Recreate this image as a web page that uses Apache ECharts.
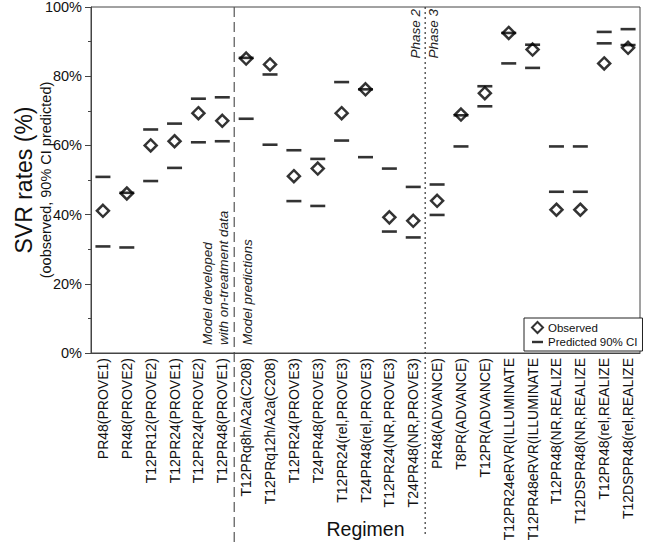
<!DOCTYPE html>
<html>
<head>
<meta charset="utf-8">
<script src="https://cdn.jsdelivr.net/npm/echarts@6/dist/echarts.min.js"></script>
<style>
    html, body { margin: 0; padding: 0; background: #fff; }
    #svr_chart { width: 647px; height: 550px; }
</style>
</head>
<body>
<div id="svr_chart"></div>
<script>
const categories = [
    'PR48(PROVE1)', 'PR48(PROVE2)', 'T12PR12(PROVE2)', 'T12PR24(PROVE1)',
    'T12PR24(PROVE2)', 'T12PR48(PROVE1)', 'T12PRq8h/A2a(C208)', 'T12PRq12h/A2a(C208)',
    'T12PR24(PROVE3)', 'T24PR48(PROVE3)', 'T12PR24(rel,PROVE3)', 'T24PR48(rel,PROVE3)',
    'T12PR24(NR,PROVE3)', 'T24PR48(NR,PROVE3)', 'PR48(ADVANCE)', 'T8PR(ADVANCE)',
    'T12PR(ADVANCE)', 'T12PR24eRVR(ILLUMINATE', 'T12PR48eRVR(ILLUMINATE', 'T12PR48(NR,REALIZE',
    'T12DSPR48(NR,REALIZE', 'T12PR48(rel,REALIZE', 'T12DSPR48(rel,REALIZE'
];
const observed = [
    41.1, 46.1, 60.0, 61.2, 69.3, 67.1, 85.1, 83.4, 51.1, 53.3, 69.3, 76.2,
    39.2, 38.2, 44.0, 68.9, 75.1, 92.5, 87.7, 41.4, 41.4, 83.7, 88.2
];
const ciHigh = [
    50.9, 46.3, 64.6, 66.3, 73.5, 73.9, 85.3, 80.5, 58.6, 56.1, 78.3, 76.2,
    53.3, 48.0, 48.7, 68.7, 77.1, 92.5, 89.1, 59.7, 59.7, 92.8, 93.6
];
const ciLow = [
    30.8, 30.5, 49.7, 53.5, 60.9, 61.2, 67.7, 60.2, 43.9, 42.5, 61.4, 56.6,
    35.1, 33.4, 39.9, 59.7, 71.3, 83.7, 82.4, 46.6, 46.6, 89.5, 89.0
];
const yTicks = [ 0, 20, 40, 60, 80, 100 ];

( () => {
    const chart = echarts.init( document.getElementById( 'svr_chart' ), null, { renderer: 'svg' } );
    const font = 'Liberation Sans, Arial, sans-serif';

    const ciData = [];
    ciLow.forEach( ( v, i ) => ciData.push( [ i, v ] ) );
    ciHigh.forEach( ( v, i ) => ciData.push( [ i, v ] ) );

    chart.setOption( {
        animation: false,
        textStyle: { fontFamily: font },
        grid: {
            left: 91, right: 7, top: 7, bottom: 197,
            outerBoundsMode: 'none',
            containLabel: false,
            show: true, borderColor: '#444', borderWidth: 1,
        },
        legend: {
            left: 524, top: 318,
            orient: 'vertical',
            borderColor: '#222', borderWidth: 1,
            backgroundColor: '#fff',
            padding: [ 3, 5, 3, 7 ],
            itemGap: 2,
            itemWidth: 11, itemHeight: 11,
            textStyle: { fontSize: 11.5, color: '#111', fontFamily: font },
            data: [
                { name: 'Observed' },
                { name: 'Predicted 90% CI', icon: 'path://M0,0H10V2.2H0Z' },
            ],
        },
        xAxis: {
            type: 'category',
            data: categories,
            name: 'Regimen',
            nameLocation: 'middle',
            nameGap: 166,
            nameMoveOverlap: false,
            nameTextStyle: { fontSize: 19.5, color: '#111' },
            axisLine: { lineStyle: { color: '#444' } },
            axisTick: { show: false },
            axisLabel: { rotate: 90, interval: 0, fontSize: 14, color: '#111', margin: 5 },
        },
        yAxis: {
            type: 'value',
            min: yTicks[ 0 ], max: yTicks[ yTicks.length - 1 ], interval: 20,
            name: '{a|SVR rates (%)}\n{b|(oobserved, 90% CI predicted)}',
            nameLocation: 'middle',
            nameRotate: 90,
            nameGap: 35,
            nameMoveOverlap: false,
            nameTextStyle: {
                rich: {
                    a: { fontSize: 23, color: '#111', lineHeight: 24, fontFamily: font },
                    b: { fontSize: 14.5, color: '#111', lineHeight: 20, fontFamily: font },
                },
            },
            axisLine: { show: true, lineStyle: { color: '#444' } },
            axisTick: { show: true, length: 6, lineStyle: { color: '#444' } },
            minorTick: { show: true, splitNumber: 2, length: 3, lineStyle: { color: '#444' } },
            splitLine: { show: false },
            axisLabel: { formatter: '{value}%', fontSize: 14.5, color: '#111', margin: 9 },
        },
        series: [
            {
                name: 'Observed',
                type: 'scatter',
                symbol: 'diamond',
                symbolSize: 12,
                itemStyle: { color: '#fff', borderColor: '#000', borderWidth: 2.5 },
                data: observed.map( ( v, i ) => [ i, v ] ),
                z: 2,
            },
            {
                name: 'Predicted 90% CI',
                type: 'scatter',
                symbol: 'rect',
                symbolSize: [ 15, 2.6 ],
                itemStyle: { color: '#000' },
                data: ciData,
                z: 3,
            },
        ],
    } );

    // separators between model groups and phases
    const midX = ( a, b ) => ( chart.convertToPixel( { xAxisIndex: 0 }, a ) + chart.convertToPixel( { xAxisIndex: 0 }, b ) ) / 2;
    const topY = chart.convertToPixel( { yAxisIndex: 0 }, 100 );
    const botY = chart.convertToPixel( { yAxisIndex: 0 }, 0 );
    const sep1 = midX( 5, 6 );
    const sep2 = midX( 13, 14 );
    const noteStyle = { fontSize: 13.5, fontStyle: 'italic', fill: '#222', fontFamily: font };

    chart.setOption( {
        graphic: [
            {
                type: 'line', shape: { x1: sep1, y1: topY, x2: sep1, y2: 543 },
                style: { stroke: '#555', lineWidth: 1.2, lineDash: [ 10, 5 ] }, silent: true,
            },
            {
                type: 'line', shape: { x1: sep2, y1: topY, x2: sep2, y2: 537 },
                style: { stroke: '#333', lineWidth: 1.2, lineDash: [ 2, 3 ] }, silent: true,
            },
            {
                type: 'text', x: sep1 - 27, y: botY - 8, rotation: Math.PI / 2,
                style: Object.assign( { text: 'Model developed', align: 'left', verticalAlign: 'middle' }, noteStyle ),
            },
            {
                type: 'text', x: sep1 - 11, y: botY - 8, rotation: Math.PI / 2,
                style: Object.assign( { text: 'with on-treatment data', align: 'left', verticalAlign: 'middle' }, noteStyle ),
            },
            {
                type: 'text', x: sep1 + 13, y: botY - 8, rotation: Math.PI / 2,
                style: Object.assign( { text: 'Model predictions', align: 'left', verticalAlign: 'middle' }, noteStyle ),
            },
            {
                type: 'text', x: sep2 - 10, y: topY + 2, rotation: Math.PI / 2,
                style: Object.assign( { text: 'Phase 2', align: 'right', verticalAlign: 'middle' }, noteStyle ),
            },
            {
                type: 'text', x: sep2 + 8, y: topY + 2, rotation: Math.PI / 2,
                style: Object.assign( { text: 'Phase 3', align: 'right', verticalAlign: 'middle' }, noteStyle ),
            },
        ],
    } );
} ) ();
</script>
</body>
</html>
